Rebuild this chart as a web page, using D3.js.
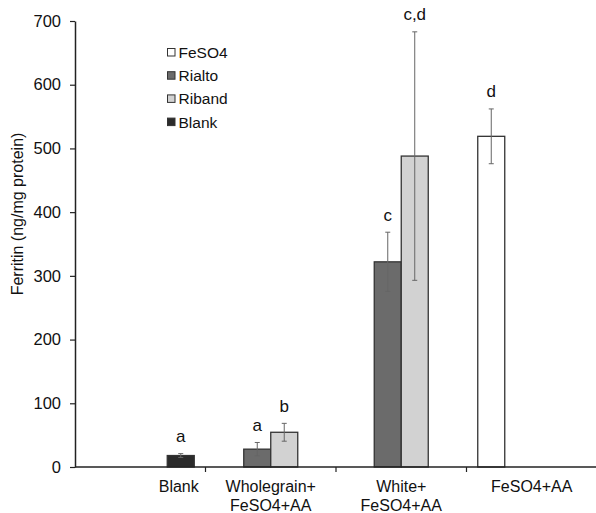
<!DOCTYPE html>
<html>
<head>
<meta charset="utf-8">
<script src="https://cdn.jsdelivr.net/npm/d3@7"></script>
<style>
  body { margin: 0; background: #fff; }
  svg { display: block; font-family: "Liberation Sans", Arial, sans-serif; }
</style>
</head>
<body>
<div id="vis"></div>
<script>
// categories on the x axis (lines split on \n)
var categories = ['Blank', 'Wholegrain+\nFeSO4+AA', 'White+\nFeSO4+AA', 'FeSO4+AA'];
var seriesNames = ['FeSO4', 'Rialto', 'Riband', 'Blank'];
var seriesColors = ['#ffffff', '#6b6b6b', '#d2d2d2', '#2b2b2b'];

var feso4Values = [null, null, null, 519];
var feso4Errors = [null, null, null, 43];
var feso4Letters = [null, null, null, 'd'];

var rialtoValues = [null, 28, 322, null];
var rialtoErrors = [null, 10.5, 46.5, null];
var rialtoLetters = [null, 'a', 'c', null];

var ribandValues = [null, 54.5, 488, null];
var ribandErrors = [null, 14, 195, null];
var ribandLetters = [null, 'b', 'c,d', null];

var blankValues = [18, null, null, null];
var blankErrors = [3, null, null, null];
var blankLetters = ['a', null, null, null];

var yTicks = [0, 100, 200, 300, 400, 500, 600, 700];
var yTitle = 'Ferritin (ng/mg protein)';

var width = 596;
var height = 513;
var margin = { left: 75, top: 21, bottom: 46 };

var allValues = [feso4Values, rialtoValues, ribandValues, blankValues];
var allErrors = [feso4Errors, rialtoErrors, ribandErrors, blankErrors];
var allLetters = [feso4Letters, rialtoLetters, ribandLetters, blankLetters];

// flatten into bar records
var bars = [];
seriesNames.forEach(function (s, si) {
  categories.forEach(function (c, ci) {
    if (allValues[si][ci] == null) return;
    bars.push({
      series: s,
      category: c,
      value: allValues[si][ci],
      err: allErrors[si][ci],
      letter: allLetters[si][ci],
      color: seriesColors[si]
    });
  });
});

var svg = d3.select('#vis').append('svg')
  .attr('width', width)
  .attr('height', height);

svg.append('rect').attr('width', width).attr('height', height).attr('fill', '#fff');

var x = d3.scaleBand()
  .domain(categories)
  .range([margin.left, 597])
  .paddingInner(0)
  .paddingOuter(0);

var xs = d3.scaleBand()
  .domain(seriesNames)
  .range([0, x.bandwidth()])
  .paddingInner(0)
  .paddingOuter(0.4167);

var y = d3.scaleLinear()
  .domain([0, 700])
  .range([height - margin.bottom, margin.top]);

// bars
svg.append('g').selectAll('rect')
  .data(bars)
  .enter()
  .append('rect')
  .attr('x', function (d) { return x(d.category) + xs(d.series); })
  .attr('y', function (d) { return y(d.value); })
  .attr('width', xs.bandwidth())
  .attr('height', function (d) { return y(0) - y(d.value); })
  .attr('fill', function (d) { return d.color; })
  .attr('stroke', '#333')
  .attr('stroke-width', 1.3);

// error bars
var errG = svg.append('g').attr('stroke', '#666').attr('stroke-width', 1);
bars.forEach(function (d) {
  var cx = x(d.category) + xs(d.series) + xs.bandwidth() / 2;
  var top = y(d.value + d.err);
  var bot = y(d.value - d.err);
  errG.append('line').attr('x1', cx).attr('x2', cx).attr('y1', top).attr('y2', bot);
  errG.append('line').attr('x1', cx - 2.5).attr('x2', cx + 2.5).attr('y1', top).attr('y2', top);
  errG.append('line').attr('x1', cx - 2.5).attr('x2', cx + 2.5).attr('y1', bot).attr('y2', bot);
});

// significance letters
svg.append('g').selectAll('text')
  .data(bars)
  .enter()
  .append('text')
  .attr('x', function (d) { return x(d.category) + xs(d.series) + xs.bandwidth() / 2; })
  .attr('y', function (d) { return y(d.value + d.err) - 11.5; })
  .attr('text-anchor', 'middle')
  .attr('font-size', 17)
  .attr('fill', '#111')
  .text(function (d) { return d.letter; });

// y axis
var yAxis = svg.append('g')
  .attr('transform', 'translate(' + margin.left + ',0)')
  .call(d3.axisLeft(y).tickValues(yTicks).tickSize(5).tickSizeOuter(0).tickPadding(9));
yAxis.select('.domain').attr('stroke', '#222').attr('stroke-width', 1.5);
yAxis.selectAll('.tick line').attr('stroke', '#222').attr('stroke-width', 1.2);
yAxis.selectAll('.tick text').attr('font-size', 16.5).attr('fill', '#111')
  .attr('font-family', '"Liberation Sans", Arial, sans-serif');

svg.append('text')
  .attr('transform', 'translate(23,214) rotate(-90)')
  .attr('text-anchor', 'middle')
  .attr('font-size', 16)
  .attr('fill', '#111')
  .text(yTitle);

// x axis line + boundary ticks
svg.append('line')
  .attr('x1', margin.left).attr('x2', width)
  .attr('y1', y(0)).attr('y2', y(0))
  .attr('stroke', '#222').attr('stroke-width', 1.5);

svg.append('g').selectAll('line')
  .data(categories.slice(1))
  .enter()
  .append('line')
  .attr('x1', function (d) { return x(d); })
  .attr('x2', function (d) { return x(d); })
  .attr('y1', y(0))
  .attr('y2', y(0) + 5)
  .attr('stroke', '#222')
  .attr('stroke-width', 1.2);

// category labels; the Blank label sits under its single bar
var catLabels = svg.append('g').selectAll('text')
  .data(categories)
  .enter()
  .append('text')
  .attr('text-anchor', 'middle')
  .attr('font-size', 16)
  .attr('fill', '#111')
  .attr('x', function (d, i) {
    if (i === 0) return x(d) + xs('Blank') + xs.bandwidth() / 2 - 2;
    return x(d) + x.bandwidth() / 2;
  })
  .attr('y', y(0) + 25);

catLabels.each(function (d) {
  var t = d3.select(this);
  var cx = t.attr('x');
  d.split('\n').forEach(function (line, li) {
    t.append('tspan')
      .attr('x', cx)
      .attr('dy', li === 0 ? 0 : 19)
      .text(line);
  });
});

// legend
var legend = svg.append('g').attr('transform', 'translate(167.5,48.5)');
var legendItems = legend.selectAll('g')
  .data(seriesNames)
  .enter()
  .append('g')
  .attr('transform', function (d, i) { return 'translate(0,' + (i * 23.2) + ')'; });

legendItems.append('rect')
  .attr('width', 7.5)
  .attr('height', 7.5)
  .attr('fill', function (d, i) { return seriesColors[i]; })
  .attr('stroke', '#333')
  .attr('stroke-width', 1);

legendItems.append('text')
  .attr('x', 11)
  .attr('y', 9.5)
  .attr('font-size', 15.5)
  .attr('fill', '#111')
  .text(function (d) { return d; });
</script>
</body>
</html>
